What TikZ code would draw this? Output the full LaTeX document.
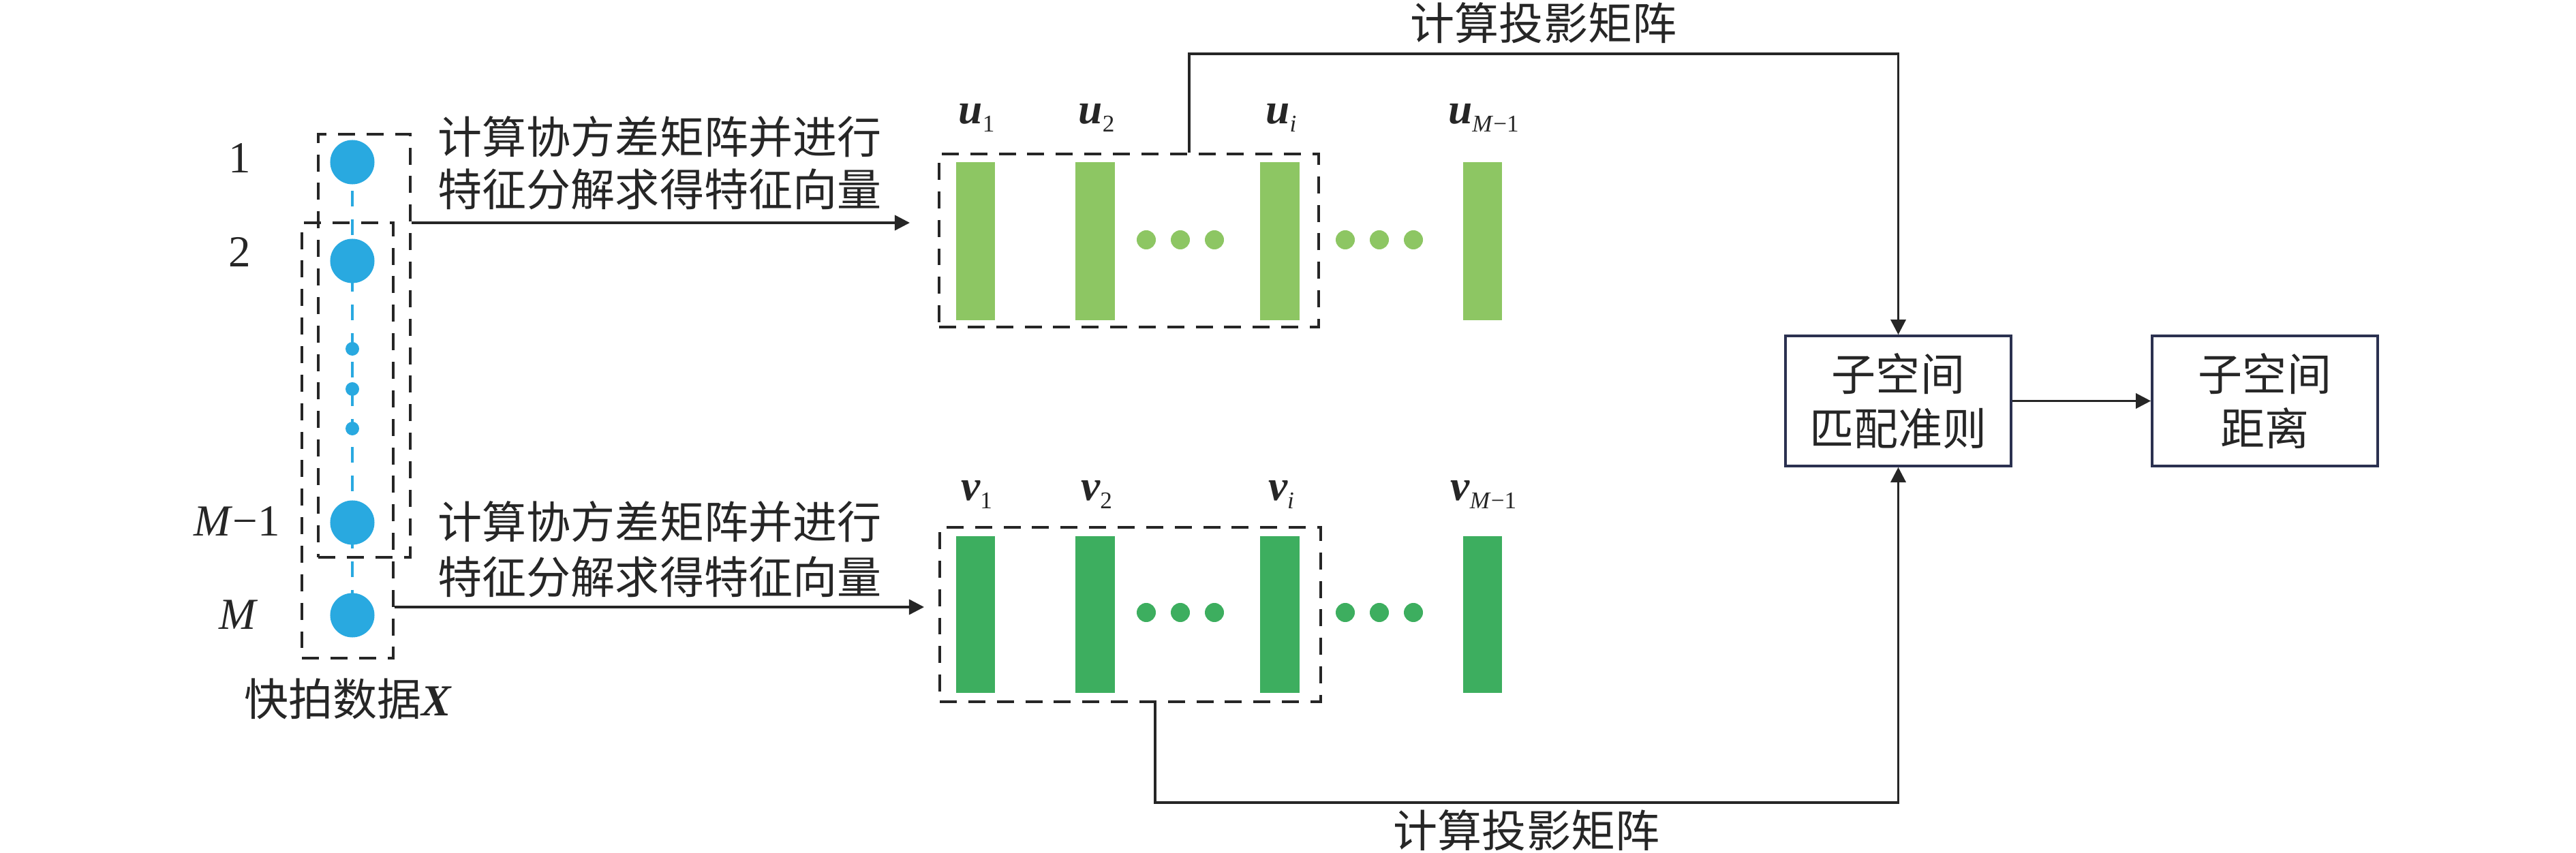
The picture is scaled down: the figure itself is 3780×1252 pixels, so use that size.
\documentclass[tikz,border=0pt]{standalone}
\usepackage{fontspec}
\setmainfont{Liberation Serif}
\newfontfamily\cjk{Noto Sans CJK SC}
\usetikzlibrary{arrows.meta,fit,backgrounds}
\definecolor{dotblue}{RGB}{41,169,224}
\definecolor{lgreen}{RGB}{141,198,99}
\definecolor{dgreen}{RGB}{61,174,95}
\definecolor{ink}{RGB}{38,38,38}
\definecolor{navy}{RGB}{43,49,80}
\newcommand\vsub[1]{\raisebox{-3.2pt}{\fontsize{10}{10}\selectfont\mdseries\upshape #1}}
\begin{document}
\begin{tikzpicture}[x=0.01cm,y=-0.01cm,
  dashbox/.style={draw=ink,line width=1.1pt,dash pattern=on 7.1pt off 4.8pt,inner sep=0pt},
  bigdot/.style={circle,fill=dotblue,minimum size=0.65cm,inner sep=0pt},
  smalldot/.style={circle,fill=dotblue,minimum size=0.2cm,inner sep=0pt},
  ubar/.style={fill=lgreen,minimum width=0.57cm,minimum height=2.32cm,inner sep=0pt},
  vbar/.style={fill=dgreen,minimum width=0.57cm,minimum height=2.30cm,inner sep=0pt},
  udot/.style={circle,fill=lgreen,minimum size=0.28cm,inner sep=0pt},
  vdot/.style={circle,fill=dgreen,minimum size=0.28cm,inner sep=0pt},
  conn/.style={draw=ink,line width=0.95pt},
  arr/.style={conn,-{Triangle[length=6.3pt,width=6.3pt]}},
  cjktext/.style={text=ink,font=\cjk\fontsize{18.5}{22}\selectfont,align=center,inner sep=0pt},
  lbl/.style={text=ink,font=\fontsize{18.5}{22}\selectfont,inner sep=0pt,anchor=base},
  vlbl/.style={text=ink,font=\fontsize{18}{22}\selectfont\bfseries\itshape,inner sep=0pt,anchor=base},
  procbox/.style={draw=navy,line width=1pt,minimum width=3.31cm,minimum height=1.91cm,inner sep=0pt,align=center,text=ink,font=\cjk\fontsize{18.5}{22.8}\selectfont}
]
\useasboundingbox (0,0) rectangle (3780,1252);

% snapshot dots
\node[bigdot] (d1) at (517,238) {};
\node[bigdot] (d2) at (517,383) {};
\node[smalldot] (s1) at (517,512) {};
\node[smalldot] (s2) at (517,571) {};
\node[smalldot] (s3) at (517,629) {};
\node[bigdot] (dM1) at (517,767) {};
\node[bigdot] (dM) at (517,903) {};
\begin{scope}[on background layer]
\draw[dotblue,line width=1.1pt,dash pattern=on 6.5pt off 5.4pt] (d1.center) -- (dM.center);
\end{scope}

% row labels
\node[lbl] (l1) at (352,254) {1};
\node[lbl] (l2) at (352,392) {2};
\node[lbl] (lM1) at (348,787) {\textit{M}−1};
\node[lbl] (lM) at (350,923) {\textit{M}};

% dashed windows
\node[dashbox,fit={(467,197) (602,818)}] (boxA) {};
\node[dashbox,fit={(443,327) (577,966)}] (boxB) {};
\node[cjktext] (snap) at (510,1026) {快拍数据{\rmfamily\bfseries\itshape X}};

% u vectors
\node[ubar] (u1) at (1431.5,354) {};
\node[ubar] (u2) at (1607,354) {};
\node[ubar] (ui) at (1878,354) {};
\node[ubar] (uM) at (2175.5,354) {};
\node[udot] (ua) at (1682,352) {};
\node[udot] (ub) at (1732,352) {};
\node[udot] (uc) at (1782,352) {};
\node[udot] (ud) at (1974,352) {};
\node[udot] (ue) at (2024,352) {};
\node[udot] (uf) at (2074,352) {};
\node[vlbl] (lu1) at (1433,182) {u\vsub{1}};
\node[vlbl] (lu2) at (1609,182) {u\vsub{2}};
\node[vlbl] (lui) at (1880,182) {u\vsub{\textit{i}}};
\node[vlbl] (luM) at (2177,182) {u\vsub{\textit{M}−1}};
\node[dashbox,fit={(1378,226) (1935,480)}] (boxU) {};

% v vectors
\node[vbar] (v1) at (1431.5,902) {};
\node[vbar] (v2) at (1607,902) {};
\node[vbar] (vi) at (1878,902) {};
\node[vbar] (vM) at (2175.5,902) {};
\node[vdot] (va) at (1682,899) {};
\node[vdot] (vb) at (1732,899) {};
\node[vdot] (vc) at (1782,899) {};
\node[vdot] (vd) at (1974,899) {};
\node[vdot] (ve) at (2024,899) {};
\node[vdot] (vf) at (2074,899) {};
\node[vlbl] (lv1) at (1433,735) {v\vsub{1}};
\node[vlbl] (lv2) at (1609,735) {v\vsub{2}};
\node[vlbl] (lvi) at (1880,735) {v\vsub{\textit{i}}};
\node[vlbl] (lvM) at (2177,735) {v\vsub{\textit{M}−1}};
\node[dashbox,fit={(1379,774) (1938,1030)}] (boxV) {};

% process boxes
\node[procbox] (crit) at (2785.5,588.5) {子空间\\匹配准则};
\node[procbox] (dist) at (3323.5,588.5) {子空间\\距离};

% arrows from snapshots
\coordinate (ya) at (1000,327);
\coordinate (yb) at (1000,891);
\draw[arr] (boxA.east |- ya) -- ([xshift=-0.41cm]boxU.west |- ya);
\draw[arr] (boxB.east |- yb) -- ([xshift=-0.21cm]boxV.west |- yb);
\node[cjktext] (tU) at (968,239) {计算协方差矩阵并进行\\特征分解求得特征向量};
\node[cjktext,font=\cjk\fontsize{18.5}{23}\selectfont] (tV) at (968,806) {计算协方差矩阵并进行\\特征分解求得特征向量};

% projection connectors
\coordinate (tx) at (1745,79);
\coordinate (bx) at (1695,1178);
\draw[arr] (boxU.north -| tx) -- (tx) -| (crit.north);
\draw[arr] (boxV.south -| bx) -- (bx) -| (crit.south);
\node[cjktext] (ttop) at (2265,34) {计算投影矩阵};
\node[cjktext] (tbot) at (2240,1219) {计算投影矩阵};

\draw[arr] (crit.east) -- (dist.west);
\end{tikzpicture}
\end{document}
